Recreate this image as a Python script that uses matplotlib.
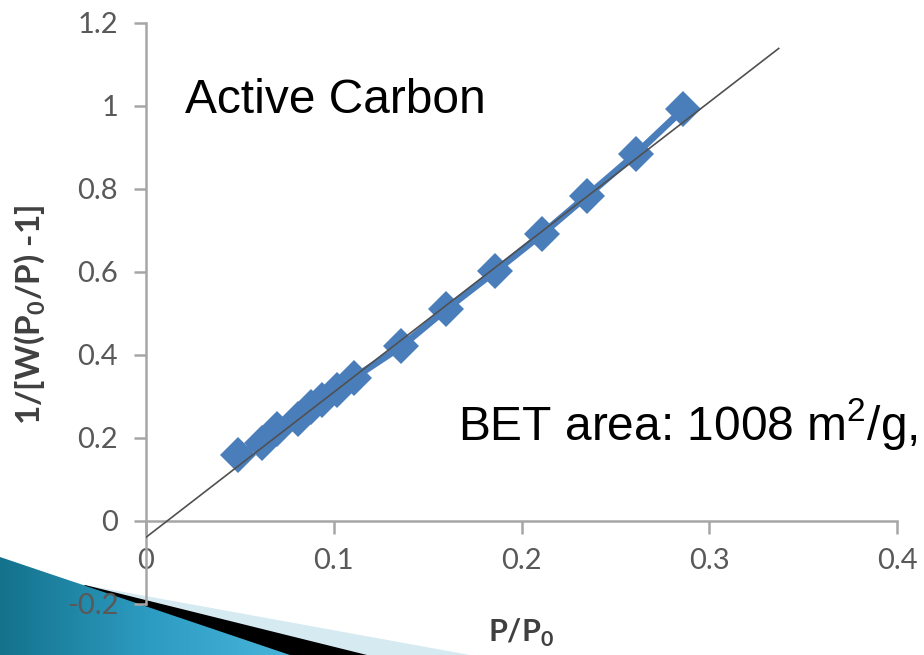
import numpy as np
import matplotlib
matplotlib.use("Agg")
import matplotlib.pyplot as plt
from matplotlib.patches import Polygon
from matplotlib.colors import LinearSegmentedColormap

# BET plot data
p_rel = [0.049, 0.062, 0.070, 0.081, 0.088, 0.094, 0.1015, 0.111,
         0.136, 0.160, 0.186, 0.211, 0.235, 0.261, 0.286]
bet_y = [0.159, 0.188, 0.220, 0.244, 0.273, 0.292, 0.316, 0.345,
         0.420, 0.510, 0.601, 0.691, 0.783, 0.884, 0.991]

# linear trendline end points
fit_x = [0.0, 0.337]
fit_y = [-0.04, 1.138]

x_ticks = [0, 0.1, 0.2, 0.3, 0.4]
y_ticks = [-0.2, 0, 0.2, 0.4, 0.6, 0.8, 1, 1.2]

W, H = 924, 655
fig = plt.figure(figsize=(W / 100, H / 100), dpi=100)
fig.patch.set_facecolor("white")

# slide decoration in the lower left corner (behind the chart)
deco = fig.add_axes([0, 0, 1, 1], zorder=0)
deco.add_patch(Polygon([(0, 560), (85, 585), (470, H), (0, H)], closed=True,
                       facecolor="#d6eaf1", edgecolor="none", zorder=1))
deco.add_patch(Polygon([(85, 585), (367, H), (0, H)], closed=True,
                       facecolor="black", edgecolor="none", zorder=2))
teal = Polygon([(0, 557), (290, H), (0, H)], closed=True,
               facecolor="none", edgecolor="none")
deco.add_patch(teal)
grad = np.linspace(0, 1, 256).reshape(1, -1)
cmap = LinearSegmentedColormap.from_list("t", ["#14728c", "#2d9cc2", "#4ab6dc"])
im = deco.imshow(grad, extent=[0, 300, H, 550], aspect="auto", cmap=cmap, zorder=3)
im.set_clip_path(teal)
deco.set_xlim(0, W)
deco.set_ylim(H, 0)
deco.axis("off")

ax = fig.add_axes([146 / W, (H - 603.7) / H, 751 / W, 581 / H], zorder=1)
ax.set_facecolor("none")

ax.plot(p_rel, bet_y, color="#4a7ebb", lw=5, marker="D", ms=18.5,
        mew=0, zorder=3, solid_capstyle="round")
ax.plot(fit_x, fit_y, color="#505050", lw=1.2, zorder=4)

ax.set_xlim(0, 0.4)
ax.set_ylim(-0.2, 1.2)

for s in ["top", "right"]:
    ax.spines[s].set_visible(False)
ax.spines["bottom"].set_position(("data", 0))
for s in ["left", "bottom"]:
    ax.spines[s].set_color("#a6a6a6")
    ax.spines[s].set_linewidth(1.8)

tick_font = {"family": ["Lato", "DejaVu Sans"], "size": 21}
ax.set_xticks(x_ticks)
ax.set_xticklabels([f"{v:g}" for v in x_ticks], fontdict=tick_font, color="#595959")
ax.set_yticks(y_ticks)
ax.set_yticklabels([f"{v:g}" for v in y_ticks], fontdict=tick_font, color="#595959")
ax.tick_params(axis="both", direction="out", length=9, width=1.8, color="#a6a6a6")
ax.tick_params(axis="y", pad=11)
ax.tick_params(axis="x", pad=11)

fig.text(30 / W, 1 - 315 / H, r"1/[W(P$_\mathregular{0}$/P) -1]", rotation=90,
         ha="center", va="center", fontsize=24, fontweight="bold",
         family=["Lato", "DejaVu Sans"], color="#404040")
fig.text(521 / W, 1 - 633 / H, r"P/P$_\mathregular{0}$",
         ha="center", va="center", fontsize=22, fontweight="bold",
         family=["Lato", "DejaVu Sans"], color="#404040")

ax.text(0.0207, 0.983, "Active Carbon", fontsize=34.5,
        family="Liberation Sans", va="baseline", ha="left")
ax.text(0.166, 0.195, r"BET area: 1008 m$^\mathregular{2}$/g,", fontsize=34.5,
        family="Liberation Sans", va="baseline", ha="left")

fig.savefig("out.png", dpi=100)
